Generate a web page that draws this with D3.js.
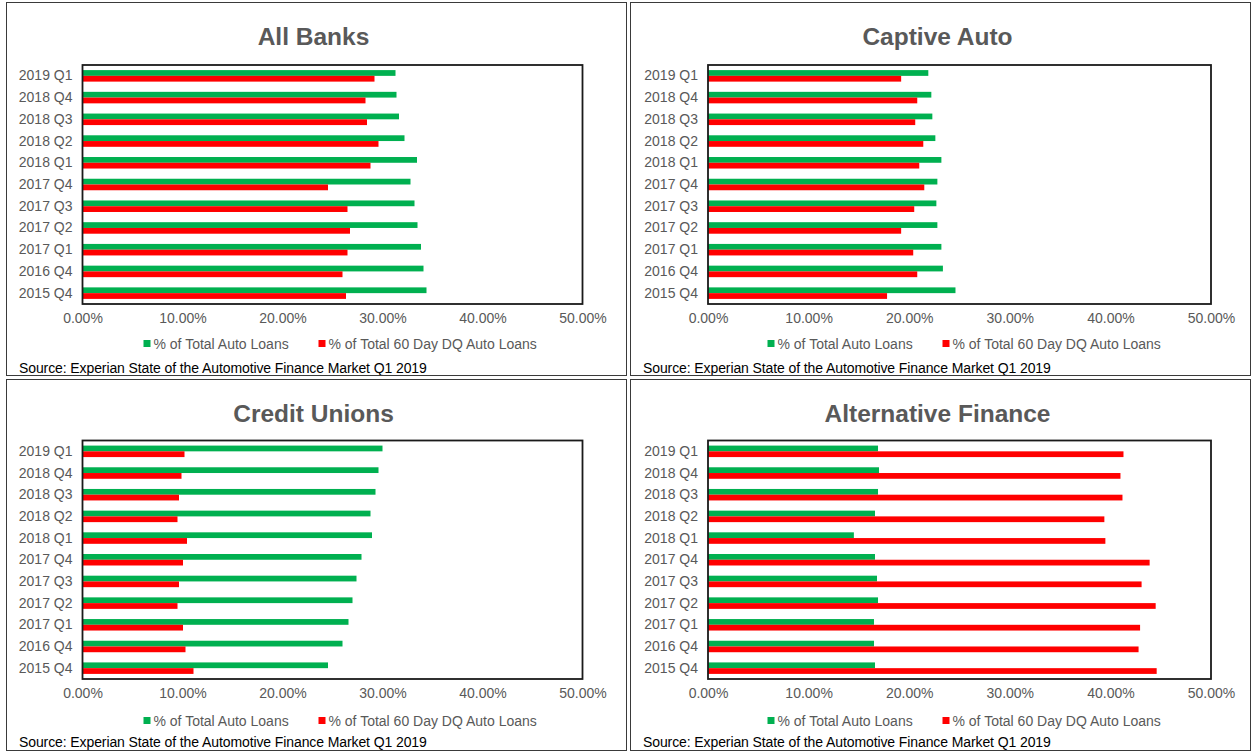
<!DOCTYPE html>
<html>
<head>
<meta charset="utf-8">
<script src="https://cdn.jsdelivr.net/npm/d3@7"></script>
<style>
  html, body { margin: 0; padding: 0; background: #fff; }
  svg { display: block; }
  text { font-family: "Liberation Sans", Arial, sans-serif; }
</style>
</head>
<body>
<svg id="chart" width="1251" height="751"></svg>
<script>
// Quarters shown on every panel (top to bottom)
const categories = ["2019 Q1", "2018 Q4", "2018 Q3", "2018 Q2", "2018 Q1", "2017 Q4",
                    "2017 Q3", "2017 Q2", "2017 Q1", "2016 Q4", "2015 Q4"];

// Share of total auto loans / share of 60-day delinquent auto loans, in percent
const allBanksTotal     = [31.3, 31.4, 31.65, 32.2, 33.45, 32.8, 33.2, 33.5, 33.85, 34.1, 34.4];
const allBanksDQ        = [29.2, 28.3, 28.45, 29.6, 28.8, 24.55, 26.5, 26.75, 26.5, 26.0, 26.35];
const captiveTotal      = [21.9, 22.2, 22.3, 22.6, 23.2, 22.8, 22.7, 22.8, 23.2, 23.35, 24.6];
const captiveDQ         = [19.2, 20.8, 20.6, 21.4, 21.0, 21.5, 20.5, 19.2, 20.4, 20.8, 17.8];
const creditUnionTotal  = [30.0, 29.6, 29.3, 28.8, 28.95, 27.9, 27.4, 27.0, 26.6, 26.0, 24.55];
const creditUnionDQ     = [10.2, 9.9, 9.65, 9.5, 10.45, 10.05, 9.65, 9.5, 10.05, 10.3, 11.1];
const altFinanceTotal   = [16.9, 17.0, 16.9, 16.6, 14.5, 16.6, 16.8, 16.9, 16.5, 16.5, 16.6];
const altFinanceDQ      = [41.3, 41.0, 41.2, 39.4, 39.5, 43.9, 43.1, 44.5, 42.95, 42.8, 44.6];

const xTicks = [0, 10, 20, 30, 40, 50];
const seriesNames = ["% of Total Auto Loans", "% of Total 60 Day DQ Auto Loans"];
const seriesColors = ["#00B050", "#FF0000"];
const sourceNote = "Source: Experian State of the Automotive Finance Market Q1 2019";

const panels = [
  { title: "All Banks",           total: allBanksTotal,    dq: allBanksDQ,
    box: { x: 6.5,   y: 2.5,   w: 620, h: 373 }, plot: { x: 82.5, y: 65,    w: 500, h: 239 }, srcY: 370.5 },
  { title: "Captive Auto",        total: captiveTotal,     dq: captiveDQ,
    box: { x: 630.5, y: 2.5,   w: 620, h: 373 }, plot: { x: 708,  y: 65,    w: 503, h: 239 }, srcY: 370.5 },
  { title: "Credit Unions",       total: creditUnionTotal, dq: creditUnionDQ,
    box: { x: 6.5,   y: 379.5, w: 620, h: 371 }, plot: { x: 82.5, y: 440.5, w: 500, h: 238.5 }, srcY: 367.5 },
  { title: "Alternative Finance", total: altFinanceTotal,  dq: altFinanceDQ,
    box: { x: 630.5, y: 379.5, w: 620, h: 371 }, plot: { x: 708,  y: 440.5, w: 503, h: 238.5 }, srcY: 367.5 }
];

const svg = d3.select("#chart");
const labelColor = "#595959";
const fontSize = "14px";

panels.forEach(p => {
  const g = svg.append("g");
  const clipId = "clip-" + p.title.replace(/\s+/g, "");
  g.append("clipPath").attr("id", clipId)
    .append("rect").attr("x", p.box.x).attr("y", p.box.y).attr("width", p.box.w).attr("height", p.box.h);

  const inner = g.append("g").attr("clip-path", `url(#${clipId})`);

  // Title
  inner.append("text")
    .attr("x", p.box.x + 307).attr("y", p.box.y + 42.5)
    .attr("text-anchor", "middle")
    .attr("font-size", "24.5px").attr("font-weight", "bold")
    .attr("fill", labelColor)
    .text(p.title);

  const x = d3.scaleLinear().domain([0, 50]).range([p.plot.x, p.plot.x + p.plot.w]);
  const y = d3.scaleBand().domain(categories).range([p.plot.y, p.plot.y + p.plot.h]);
  const barH = y.bandwidth() * 0.265;

  // Bars: total share above the band centre, delinquent share below
  const rows = categories.map((c, i) => ({ c, total: p.total[i], dq: p.dq[i] }));
  inner.append("g").selectAll("rect").data(rows).join("rect")
    .attr("x", x(0)).attr("y", d => y(d.c) + y.bandwidth() / 2 - barH)
    .attr("width", d => x(d.total) - x(0)).attr("height", barH)
    .attr("fill", seriesColors[0]);
  inner.append("g").selectAll("rect").data(rows).join("rect")
    .attr("x", x(0)).attr("y", d => y(d.c) + y.bandwidth() / 2)
    .attr("width", d => x(d.dq) - x(0)).attr("height", barH)
    .attr("fill", seriesColors[1]);

  // Plot frame
  inner.append("rect")
    .attr("x", p.plot.x).attr("y", p.plot.y).attr("width", p.plot.w).attr("height", p.plot.h)
    .attr("fill", "none").attr("stroke", "#1a1a1a").attr("stroke-width", 1.8);

  // Category axis
  const yAxis = inner.append("g")
    .attr("transform", `translate(${p.plot.x - 10},0)`)
    .call(d3.axisLeft(y).tickSize(0).tickPadding(0));
  yAxis.select(".domain").remove();
  yAxis.selectAll("text").attr("font-size", fontSize).attr("fill", labelColor)
    .attr("font-family", "'Liberation Sans', Arial, sans-serif");

  // Value axis
  const xAxis = inner.append("g")
    .attr("transform", `translate(0,${p.plot.y + p.plot.h + 9})`)
    .call(d3.axisBottom(x).tickValues(xTicks).tickSize(0).tickPadding(0)
      .tickFormat(d => d.toFixed(2) + "%"));
  xAxis.select(".domain").remove();
  xAxis.selectAll("text").attr("font-size", fontSize).attr("fill", labelColor)
    .attr("font-family", "'Liberation Sans', Arial, sans-serif");

  // Legend
  const legY = p.box.y + 346.5;
  const legX = [p.box.x + 137, p.box.x + 312];
  seriesNames.forEach((name, i) => {
    inner.append("rect")
      .attr("x", legX[i]).attr("y", legY - 9).attr("width", 7).attr("height", 7)
      .attr("fill", seriesColors[i]);
    inner.append("text")
      .attr("x", legX[i] + 10).attr("y", legY)
      .attr("font-size", fontSize).attr("fill", labelColor)
      .text(name);
  });

  // Source note
  inner.append("text")
    .attr("x", p.box.x + 12.5).attr("y", p.box.y + p.srcY)
    .attr("font-size", fontSize).attr("fill", "#000")
    .attr("letter-spacing", "-0.1px")
    .text(sourceNote);

  // Panel border
  g.append("rect")
    .attr("x", p.box.x).attr("y", p.box.y).attr("width", p.box.w).attr("height", p.box.h)
    .attr("fill", "none").attr("stroke", "#3a3a3a").attr("stroke-width", 1);
});
</script>
</body>
</html>
